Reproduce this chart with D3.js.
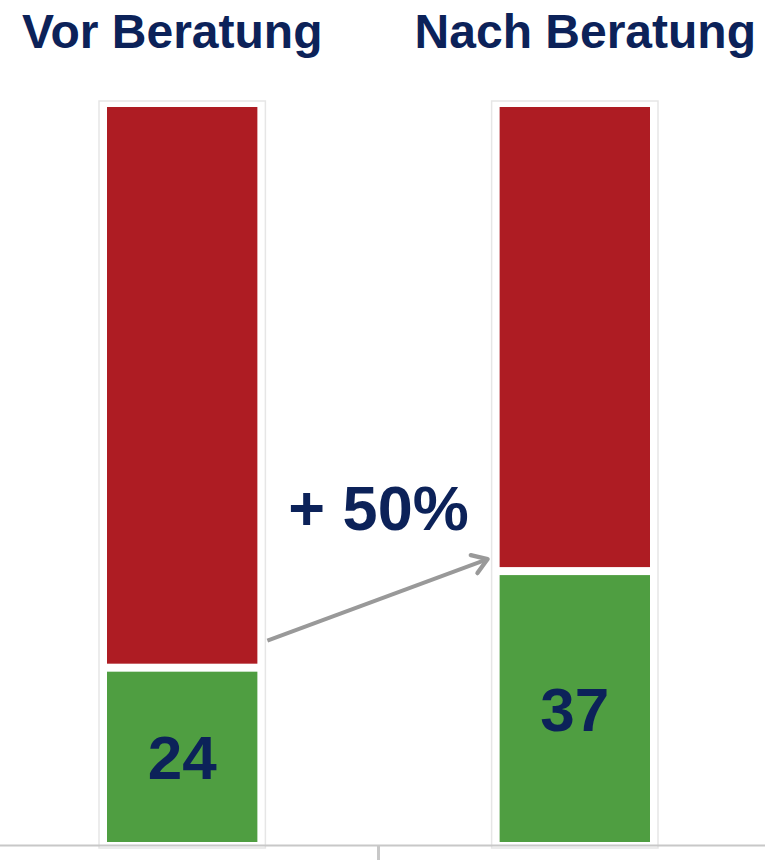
<!DOCTYPE html>
<html>
<head>
<meta charset="utf-8">
<script src="https://cdn.jsdelivr.net/npm/d3@7"></script>
<style>
  html, body { margin: 0; padding: 0; background: #fff; }
  svg { display: block; font-family: "Liberation Sans", Arial, sans-serif; }
</style>
</head>
<body>
<div id="chart"></div>
<script>
// chart data
const categories = ['Vor Beratung', 'Nach Beratung'];
const greenValues = [24, 37];
const redValues = [76, 63];
const changeLabel = '+ 50%';

const W = 765, H = 860;
const navy = '#0c2259';
const red = '#ae1c23';
const green = '#4f9e41';

const svg = d3.select('#chart').append('svg')
    .attr('width', W)
    .attr('height', H);

const x = d3.scaleBand()
    .domain(categories)
    .range([107, 650])
    .paddingInner(0.617)
    .paddingOuter(0);

const y = d3.scaleLinear()
    .domain([0, 100])
    .range([846, 103]);

const bw = x.bandwidth();
const gap = 4;

// stacked segments
const stacked = categories.map((c, i) => ({
    cat: c,
    segs: [
        { y0: 0, y1: greenValues[i], color: green, value: greenValues[i] },
        { y0: greenValues[i], y1: greenValues[i] + redValues[i], color: red, value: redValues[i] }
    ]
}));

// faint frame around each bar
svg.selectAll('.frame')
    .data(categories)
    .enter().append('rect')
    .attr('class', 'frame')
    .attr('x', d => x(d) - 8)
    .attr('y', y(100) - 2)
    .attr('width', bw + 16)
    .attr('height', y(0) - y(100) + 4)
    .attr('fill', 'none')
    .attr('stroke', '#e6e6e6')
    .attr('stroke-width', 1.5);

const groups = svg.selectAll('.bar')
    .data(stacked)
    .enter().append('g')
    .attr('class', 'bar');

groups.selectAll('rect')
    .data(d => d.segs.map(s => Object.assign({ cat: d.cat }, s)))
    .enter().append('rect')
    .attr('x', d => x(d.cat))
    .attr('y', d => y(d.y1) + gap)
    .attr('width', bw)
    .attr('height', d => y(d.y0) - y(d.y1) - 2 * gap)
    .attr('fill', d => d.color);

// value labels in green segments
svg.selectAll('.val')
    .data(categories)
    .enter().append('text')
    .attr('class', 'val')
    .attr('x', d => x(d) + bw / 2)
    .attr('y', (d, i) => y(greenValues[i] / 2) + 22)
    .attr('text-anchor', 'middle')
    .attr('font-size', 62)
    .attr('font-weight', 'bold')
    .attr('fill', navy)
    .text((d, i) => greenValues[i]);

// titles
svg.selectAll('.title')
    .data(categories)
    .enter().append('text')
    .attr('class', 'title')
    .attr('x', d => x(d) - 85)
    .attr('y', 48)
    .attr('font-size', 48)
    .attr('font-weight', 'bold')
    .attr('fill', navy)
    .text(d => d);

// arrow between bars
const ax0 = x(categories[0]) + bw + 10;
const ay0 = y(greenValues[0]) - 27;
const ax1 = x(categories[1]) - 12;
const ay1 = y(greenValues[1]) - 12;

svg.append('defs').append('marker')
    .attr('id', 'chev')
    .attr('viewBox', '0 0 10 10')
    .attr('refX', 8.5)
    .attr('refY', 5)
    .attr('markerWidth', 6)
    .attr('markerHeight', 6)
    .attr('markerUnits', 'strokeWidth')
    .attr('orient', 'auto')
    .append('path')
    .attr('d', 'M2.5,1 L8.5,5 L2.5,9')
    .attr('fill', 'none')
    .attr('stroke', '#999')
    .attr('stroke-width', 1.8)
    .attr('stroke-linecap', 'round')
    .attr('stroke-linejoin', 'round');

svg.append('line')
    .attr('x1', ax0)
    .attr('y1', ay0)
    .attr('x2', ax1)
    .attr('y2', ay1)
    .attr('stroke', '#999')
    .attr('stroke-width', 4)
    .attr('marker-end', 'url(#chev)');

svg.append('text')
    .attr('x', (x(categories[0]) + bw + x(categories[1])) / 2)
    .attr('y', 530)
    .attr('text-anchor', 'middle')
    .attr('font-size', 63)
    .attr('font-weight', 'bold')
    .attr('fill', navy)
    .text(changeLabel);

// baseline and centre tick
svg.append('line')
    .attr('x1', 0)
    .attr('x2', W)
    .attr('y1', y(0) - 0.5)
    .attr('y2', y(0) - 0.5)
    .attr('stroke', '#c8c8c8')
    .attr('stroke-width', 2);

const midX = (x(categories[0]) + bw + x(categories[1])) / 2;
svg.append('line')
    .attr('x1', midX)
    .attr('x2', midX)
    .attr('y1', y(0))
    .attr('y2', H)
    .attr('stroke', '#c8c8c8')
    .attr('stroke-width', 3);
</script>
</body>
</html>
